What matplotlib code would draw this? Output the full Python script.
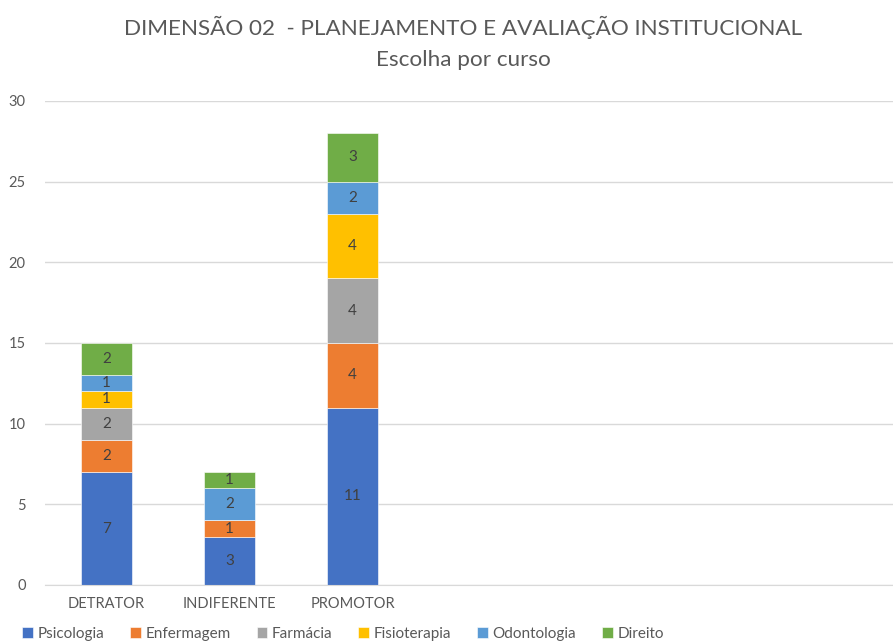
import matplotlib.pyplot as plt
import numpy as np

plt.rcParams['font.family'] = ['Lato', 'DejaVu Sans']

# dados do grafico
categorias = ['DETRATOR', 'INDIFERENTE', 'PROMOTOR']
cursos = ['Psicologia', 'Enfermagem', 'Farmácia', 'Fisioterapia', 'Odontologia', 'Direito']
psicologia = [7, 3, 11]
enfermagem = [2, 1, 4]
farmacia = [2, 0, 4]
fisioterapia = [1, 0, 4]
odontologia = [1, 2, 2]
direito = [2, 1, 3]
cores = ['#4472C4', '#ED7D31', '#A5A5A5', '#FFC000', '#5B9BD5', '#70AD47']

series = [psicologia, enfermagem, farmacia, fisioterapia, odontologia, direito]

fig = plt.figure(figsize=(8.93, 6.44), dpi=100)
ax = fig.add_axes([45 / 893, 59 / 644, 848 / 893, 484 / 644])

x = np.arange(len(categorias))
base = np.zeros(len(categorias))
handles = []
for nome, vals, cor in zip(cursos, series, cores):
    vals = np.array(vals, dtype=float)
    b = ax.bar(x, vals, 0.41, bottom=base, color=cor, edgecolor='white', linewidth=0.4, label=nome)
    handles.append(b)
    for xi, v, b0 in zip(x, vals, base):
        if v > 0:
            ax.text(xi, b0 + v / 2, f'{int(v)}', ha='center', va='center', fontsize=11, color='#404040')
    base += vals

ax.set_xlim(-0.5, 6.39)
ax.set_ylim(0, 30)
ax.set_yticks(range(0, 31, 5))
ax.yaxis.grid(True, color='#D9D9D9', linewidth=1)
ax.set_axisbelow(True)
for s in ['top', 'right', 'left']:
    ax.spines[s].set_visible(False)
ax.spines['bottom'].set_color('#D9D9D9')
ax.set_xticks(x)
ax.set_xticklabels(categorias)
ax.tick_params(axis='both', length=0, colors='#595959', labelsize=10.5)
ax.tick_params(axis='y', pad=14)
ax.tick_params(axis='x', pad=9)

fig.text(463 / 893, 1 - 27 / 644, 'DIMENSÃO 02  - PLANEJAMENTO E AVALIAÇÃO INSTITUCIONAL',
         ha='center', va='center', fontsize=16.2, color='#595959')
fig.text(463 / 893, 1 - 60 / 644, 'Escolha por curso', ha='center', va='center', fontsize=16.2, color='#595959')

fig.legend(handles=handles, labels=cursos, loc='center left', bbox_to_anchor=(22 / 893, 1 - 634 / 644),
           ncol=6, frameon=False, fontsize=11, handlelength=0.7, handleheight=0.7,
           handletextpad=0.3, columnspacing=1.7, labelcolor='#595959', borderaxespad=0, borderpad=0)

fig.savefig('out.png', dpi=100)
